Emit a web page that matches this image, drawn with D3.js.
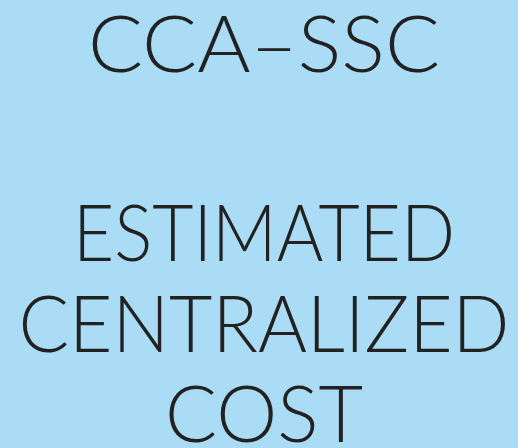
<!DOCTYPE html>
<html>
<head>
<meta charset="utf-8">
<script src="https://cdn.jsdelivr.net/npm/d3@7"></script>
<style>
	html, body { margin: 0; padding: 0; background: #aadcf6; }
	svg { display: block; }
	text { font-family: Lato, 'Open Sans', sans-serif; font-weight: 300; fill: #222; }
</style>
</head>
<body>
<svg id="poster"></svg>
<script>
// text of the card
let titleLines = ['CCA–SSC'];
let bodyLines = ['ESTIMATED', 'CENTRALIZED', 'COST'];
// measured widths of each line in the picture
let titleWidths = [352];
let bodyWidths = [382, 491, 198];

let width = 518;
let height = 448;
let fontSize = 78;

let svg = d3.select('svg#poster')
	.attr('width', width)
	.attr('height', height);

svg.append('rect')
	.attr('width', width)
	.attr('height', height)
	.style('fill', '#aadcf6');

let cx = width / 2 + 5;

let y = d3.scalePoint()
	.domain(bodyLines)
	.range([261, 442]);

svg.selectAll('.title')
	.data(titleLines)
	.enter()
	.append('text')
	.attr('class', 'title')
	.attr('x', cx)
	.attr('y', 72)
	.attr('text-anchor', 'middle')
	.attr('font-size', fontSize)
	.attr('textLength', function(d, i) { return titleWidths[i] })
	.attr('lengthAdjust', 'spacingAndGlyphs')
	.text(function(d) { return d });

svg.selectAll('.body')
	.data(bodyLines)
	.enter()
	.append('text')
	.attr('class', 'body')
	.attr('x', cx)
	.attr('y', function(d) { return y(d) })
	.attr('text-anchor', 'middle')
	.attr('font-size', fontSize)
	.attr('textLength', function(d, i) { return bodyWidths[i] })
	.attr('lengthAdjust', 'spacingAndGlyphs')
	.text(function(d) { return d });
</script>
</body>
</html>
